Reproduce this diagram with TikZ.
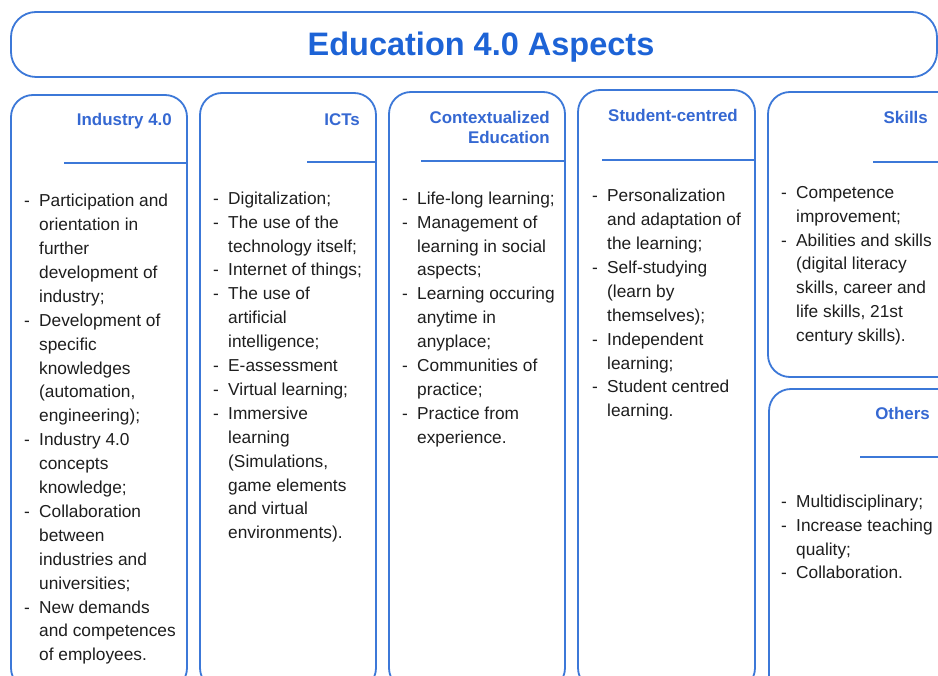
\documentclass[tikz,border=0pt]{standalone}
\usepackage{fontspec}
\setmainfont{Liberation Sans}
\definecolor{bordblue}{HTML}{3C78D8}
\definecolor{titleblue}{HTML}{1D63D6}
\definecolor{headblue}{HTML}{3568D2}
\definecolor{bodytext}{HTML}{1E1E1E}
\newcommand\bdash{\makebox[15pt][l]{-}}
\newcommand\bcont{\hspace*{15pt}}
\tikzset{
  panel/.style={draw=bordblue, line width=1.8pt, rounded corners=22pt},
  headline/.style={draw=bordblue, line width=1.8pt},
  headtext/.style={anchor=base east, inner sep=0pt, text=headblue, font=\fontsize{16.9}{20}\selectfont\bfseries, align=right},
  bodylist/.style={anchor=north west, inner sep=0pt, text=bodytext, font=\fontsize{17.3}{23.9}\selectfont, align=left},
}
\begin{document}
\begin{tikzpicture}[x=1pt,y=-1pt]
\useasboundingbox (0,0) rectangle (938,676);
\clip (0,0) rectangle (938,676);
\fill[white] (0,0) rectangle (938,676);
% title
\draw[panel, rounded corners=25pt] (11,12) rectangle (937,77);
\node[anchor=base, inner sep=0pt, text=titleblue, font=\fontsize{32.5}{36}\selectfont\bfseries] (title) at (481,56) {Education 4.0 Aspects};
% panels
\draw[panel] (11,95) rectangle (187,690);
\draw[panel] (200,93) rectangle (376,690);
\draw[panel] (389,92) rectangle (565,690);
\draw[panel] (578,90) rectangle (755,690);
\draw[panel] (768,92) rectangle (960,377);
\draw[panel] (769,389) rectangle (960,700);
% header lines
\draw[headline] (64,163) -- (187,163);
\draw[headline] (307,162) -- (376,162);
\draw[headline] (421,161) -- (565,161);
\draw[headline] (602,160) -- (755,160);
\draw[headline] (873,162) -- (950,162);
\draw[headline] (860,457) -- (950,457);
% headers
\node[headtext] (h1) at (172,126) {Industry 4.0};
\node[headtext] (h2) at (360,126) {ICTs};
\node[headtext] (h3a) at (550,124) {Contextualized};
\node[headtext] (h3b) at (550,144) {Education};
\node[headtext] (h4) at (738,122) {Student-centred};
\node[headtext] (h5) at (928,124) {Skills};
\node[headtext] (h6) at (930,420) {Others};
% lists
\node[bodylist] (l1) at (24,189.8) {\strut\bdash Participation and\\
\bcont orientation in\\
\bcont further\\
\bcont development of\\
\bcont industry;\\
\bdash Development of\\
\bcont specific\\
\bcont knowledges\\
\bcont (automation,\\
\bcont engineering);\\
\bdash Industry 4.0\\
\bcont concepts\\
\bcont knowledge;\\
\bdash Collaboration\\
\bcont between\\
\bcont industries and\\
\bcont universities;\\
\bdash New demands\\
\bcont and competences\\
\bcont of employees.};
\node[bodylist] (l2) at (213,187.3) {\strut\bdash Digitalization;\\
\bdash The use of the\\
\bcont technology itself;\\
\bdash Internet of things;\\
\bdash The use of\\
\bcont artificial\\
\bcont intelligence;\\
\bdash E-assessment\\
\bdash Virtual learning;\\
\bdash Immersive\\
\bcont learning\\
\bcont (Simulations,\\
\bcont game elements\\
\bcont and virtual\\
\bcont environments).};
\node[bodylist] (l3) at (402,187.3) {\strut\bdash Life-long learning;\\
\bdash Management of\\
\bcont learning in social\\
\bcont aspects;\\
\bdash Learning occuring\\
\bcont anytime in\\
\bcont anyplace;\\
\bdash Communities of\\
\bcont practice;\\
\bdash Practice from\\
\bcont experience.};
\node[bodylist] (l4) at (592,184.8) {\strut\bdash Personalization\\
\bcont and adaptation of\\
\bcont the learning;\\
\bdash Self-studying\\
\bcont (learn by\\
\bcont themselves);\\
\bdash Independent\\
\bcont learning;\\
\bdash Student centred\\
\bcont learning.};
\node[bodylist] (l5) at (781,181.3) {\strut\bdash Competence\\
\bcont improvement;\\
\bdash Abilities and skills\\
\bcont (digital literacy\\
\bcont skills, career and\\
\bcont life skills, 21st\\
\bcont century skills).};
\node[bodylist] (l6) at (781,490.3) {\strut\bdash Multidisciplinary;\\
\bdash Increase teaching\\
\bcont quality;\\
\bdash Collaboration.};
\end{tikzpicture}
\end{document}
